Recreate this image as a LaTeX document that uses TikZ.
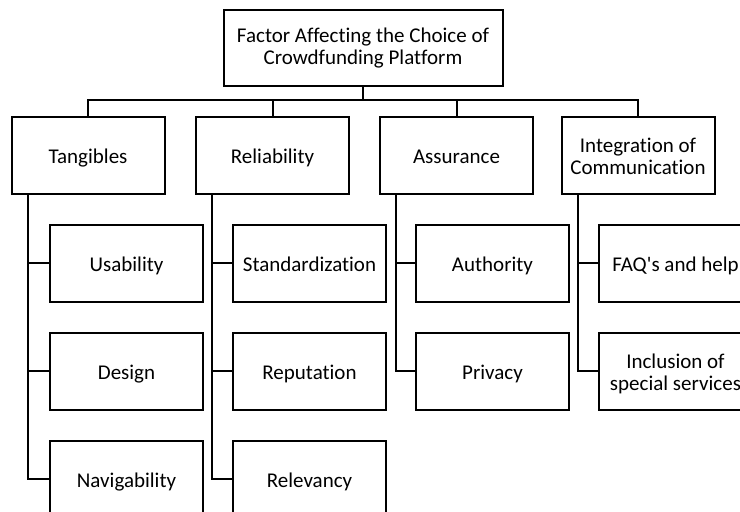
\documentclass[tikz,border=0pt]{standalone}
\usepackage{fontspec}
\setmainfont{Carlito}[Ligatures={TeXOff, CommonOff}]
\begin{document}
\begin{tikzpicture}[x=1pt, y=-1pt, lien/.style={line width=2pt}]
        \tikzset{boite/.style={rectangle, draw=black, line width=2pt, minimum width=153pt, minimum height=77pt, align=center, text depth=4pt, font=\fontsize{21}{22}\selectfont},
                 simple/.style={boite, text height=17pt, text depth=1pt},
                 double/.style={boite, text height=39pt, text depth=1pt}};
        \useasboundingbox (0, 0) rectangle (740, 512);
        \clip (0, 0) rectangle (740, 512);

        \node[boite, minimum width=279pt, minimum height=76pt] (racine) at (363, 48) {Factor Affecting the Choice of\\Crowdfunding Platform};

        \node[simple] (tang) at (88, 155) {Tangibles};
        \node[simple] (fiab) at (272.5, 155) {Reliability};
        \node[simple] (assu) at (456.5, 155) {Assurance};
        \node[double] (comm) at (638, 155) {Integration of\\Communication};

        \node[simple] (usab) at (126.5, 263) {Usability};
        \node[simple] (desi) at (126.5, 371) {Design};
        \node[simple] (navi) at (126.5, 479) {Navigability};

        \node[simple] (stan) at (309.5, 263) {Standardization};
        \node[simple] (repu) at (309.5, 371) {Reputation};
        \node[simple] (rele) at (309.5, 479) {Relevancy};

        \node[simple] (auto) at (492.5, 263) {Authority};
        \node[simple] (priv) at (492.5, 371) {Privacy};

        \node[simple] (faq) at (675.5, 263) {FAQ's and help};
        \node[double] (incl) at (675.5, 371) {Inclusion of\\special services};

        \coordinate (bus) at (363, 100);
        \foreach \f in {tang, fiab, assu, comm}
            \draw[lien] (racine.south) -- (bus) -| (\f.north);

        \foreach \p/\e in {tang/usab, tang/desi, tang/navi, fiab/stan, fiab/repu, fiab/rele, assu/auto, assu/priv, comm/faq, comm/incl}
            \draw[lien] ([xshift=17pt]\p.south west) |- (\e.west);
    \end{tikzpicture}
\end{document}
